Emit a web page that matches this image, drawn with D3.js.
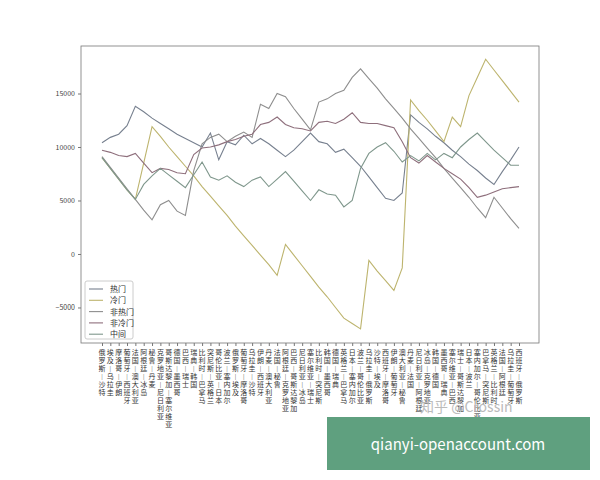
<html>
<head>
<meta charset="utf-8">
<script src="https://d3js.org/d3.v7.min.js"></script>
<style>body{margin:0;background:#fff;} text{font-family:"Noto Sans CJK SC","DejaVu Sans",sans-serif;}</style>
</head>
<body>
<script>
var matches = ["俄罗斯—沙特","埃及—乌拉圭","摩洛哥—伊朗","葡萄牙—西班牙","法国—澳大利亚","阿根廷—冰岛","秘鲁—丹麦","克罗地亚—尼日利亚",
  "哥斯达黎加—塞尔维亚","德国—墨西哥","巴西—瑞士","瑞典—韩国","比利时—巴拿马","突尼斯—英格兰","哥伦比亚—日本","波兰—塞内加尔",
  "俄罗斯—埃及","葡萄牙—摩洛哥","乌拉圭—沙特","伊朗—西班牙","丹麦—澳大利亚","法国—秘鲁","阿根廷—克罗地亚","巴西—哥斯达黎加",
  "尼日利亚—冰岛","塞尔维亚—瑞士","比利时—突尼斯","韩国—墨西哥","德国—瑞典","英格兰—巴拿马","日本—塞内加尔","波兰—哥伦比亚",
  "乌拉圭—俄罗斯","沙特—埃及","西班牙—摩洛哥","伊朗—葡萄牙","澳大利亚—秘鲁","丹麦—法国","尼日利亚—阿根廷","冰岛—克罗地亚",
  "韩国—德国","墨西哥—瑞典","塞尔维亚—巴西","瑞士—哥斯达黎加","日本—波兰","塞内加尔—哥伦比亚","巴拿马—突尼斯","英格兰—比利时",
  "法国—阿根廷","乌拉圭—葡萄牙","西班牙—俄罗斯"];

var hot = [10400,10900,11200,12000,13800,13300,12700,12200,11700,11200,10800,10400,10000,11300,8800,10500,10200,11100,10300,10800,
  10300,9700,9100,9700,10500,11300,10500,10300,9500,9800,9000,8200,7200,6200,5200,5000,5700,13000,12300,11700,
  11000,10400,9700,9100,8400,7800,7100,6500,7700,8800,10000];
var cold = [9000,8000,7000,6000,5100,8500,11900,11000,10000,9100,8200,7300,6300,5400,4500,3600,2600,1700,800,-100,
  -1000,-2000,900,-100,-1100,-2100,-3100,-4000,-5000,-6000,-6500,-7000,-600,-1600,-2500,-3400,-1300,14400,13400,12500,
  11500,10500,12800,11900,14800,16500,18200,17200,16200,15200,14200];
var nothot = [9100,8100,7100,6100,5100,4100,3200,4600,5000,4000,3600,7800,10300,10900,11200,10500,11000,11400,10900,14000,
  13600,15000,14700,13600,12600,11600,14200,14500,15000,15300,16500,17300,16400,15500,14500,13600,12700,11700,10800,9900,
  9000,8000,7100,6200,5300,4300,3400,5300,4300,3300,2400];
var notcold = [9700,9500,9200,9100,9400,8500,7600,8000,7900,7600,7500,9300,9900,10000,10200,10500,10700,11000,11200,12100,
  12300,12800,12100,11800,11700,11500,12300,12400,12200,12600,13200,12300,12200,12200,12000,11800,10500,9000,8500,9200,
  8600,8000,7500,7000,6200,5300,5500,5800,6100,6200,6300];
var middle = [9000,8000,7000,6000,5100,6500,7300,8000,7400,6800,6200,7400,8600,7200,6900,7300,6700,6300,6900,7200,
  6300,7000,7700,6800,5900,5000,6000,5600,5500,4400,5000,8000,9400,10000,10400,9600,8600,9200,8700,9400,
  8800,9400,9000,10000,10700,11300,10500,9700,9000,8300,8300];
var seriesNames = ["热门","冷门","非热门","非冷门","中间"];
var seriesColors = ["#77808f","#bdb46e","#8e8e8e","#8e6f7c","#7f978c"];
var yTicks = [-5000,0,5000,10000,15000];

var width = 600, height = 480;
var svg = d3.select('body').append('svg').attr('width', width).attr('height', height);

var mLeft = 81, mRight = 539, mTop = 46, mBottom = 343;
var x = d3.scalePoint().domain(matches).range([102, 519]);
var y = d3.scaleLinear().domain([-8320, 19440]).range([mBottom, mTop]);

var all = [hot, cold, nothot, notcold, middle];
var line = d3.line().x((d, i) => x(matches[i])).y(d => y(d));

svg.selectAll('path.s').data(all).enter().append('path')
  .attr('class', 's')
  .attr('d', d => line(d))
  .attr('fill', 'none')
  .attr('stroke', (d, i) => seriesColors[i])
  .attr('stroke-width', 1.1);

svg.append('rect').attr('x', mLeft).attr('y', mTop).attr('width', mRight - mLeft).attr('height', mBottom - mTop)
  .attr('fill', 'none').attr('stroke', '#777').attr('stroke-width', 0.8);

var yAxis = svg.append('g').attr('transform', 'translate(' + mLeft + ',0)')
  .call(d3.axisLeft(y).tickValues(yTicks).tickSize(3).tickFormat(d => d < 0 ? '−' + (-d) : d));
yAxis.select('.domain').remove();
yAxis.selectAll('line').attr('stroke', '#777');
yAxis.selectAll('text').attr('font-size', 7).attr('fill', '#444');

var xAxis = svg.append('g').attr('transform', 'translate(0,' + mBottom + ')')
  .call(d3.axisBottom(x).tickSize(3).tickFormat(''));
xAxis.select('.domain').remove();
xAxis.selectAll('line').attr('stroke', '#777');

// stacked vertical labels, one character per row
var labels = svg.append('g').selectAll('text').data(matches).enter().append('text')
  .attr('font-size', 7)
  .attr('fill', '#333')
  .attr('text-anchor', 'middle');
labels.each(function(d) {
  var t = d3.select(this);
  Array.from(d).forEach(function(ch, k) {
    t.append('tspan').attr('x', x(d)).attr('y', mBottom + 12 + k * 8)
      .text(ch === '—' ? '︱' : ch);
  });
});

// legend
var lg = svg.append('g');
lg.append('rect').attr('x', 85).attr('y', 281).attr('width', 48).attr('height', 58)
  .attr('fill', '#fff').attr('fill-opacity', 0.8).attr('stroke', '#ccc').attr('rx', 2);
seriesNames.forEach(function(n, i) {
  var yy = 289 + i * 11.3;
  lg.append('line').attr('x1', 89).attr('x2', 103).attr('y1', yy).attr('y2', yy)
    .attr('stroke', seriesColors[i]).attr('stroke-width', 1.1);
  lg.append('text').attr('x', 110).attr('y', yy + 3).attr('font-size', 8).attr('fill', '#333').text(n);
});

// watermarks
svg.append('text').attr('x', 420).attr('y', 412).attr('font-size', 14).attr('fill', '#bbb').text('知乎 @Crossin');
svg.append('rect').attr('x', 327).attr('y', 417).attr('width', 263).attr('height', 53).attr('fill', '#5fa07f');
svg.append('text').attr('x', 458).attr('y', 450).attr('text-anchor', 'middle').attr('font-size', 15)
  .attr('fill', '#fff').attr('font-family', 'DejaVu Sans').text('qianyi-openaccount.com');
</script>
</body>
</html>
